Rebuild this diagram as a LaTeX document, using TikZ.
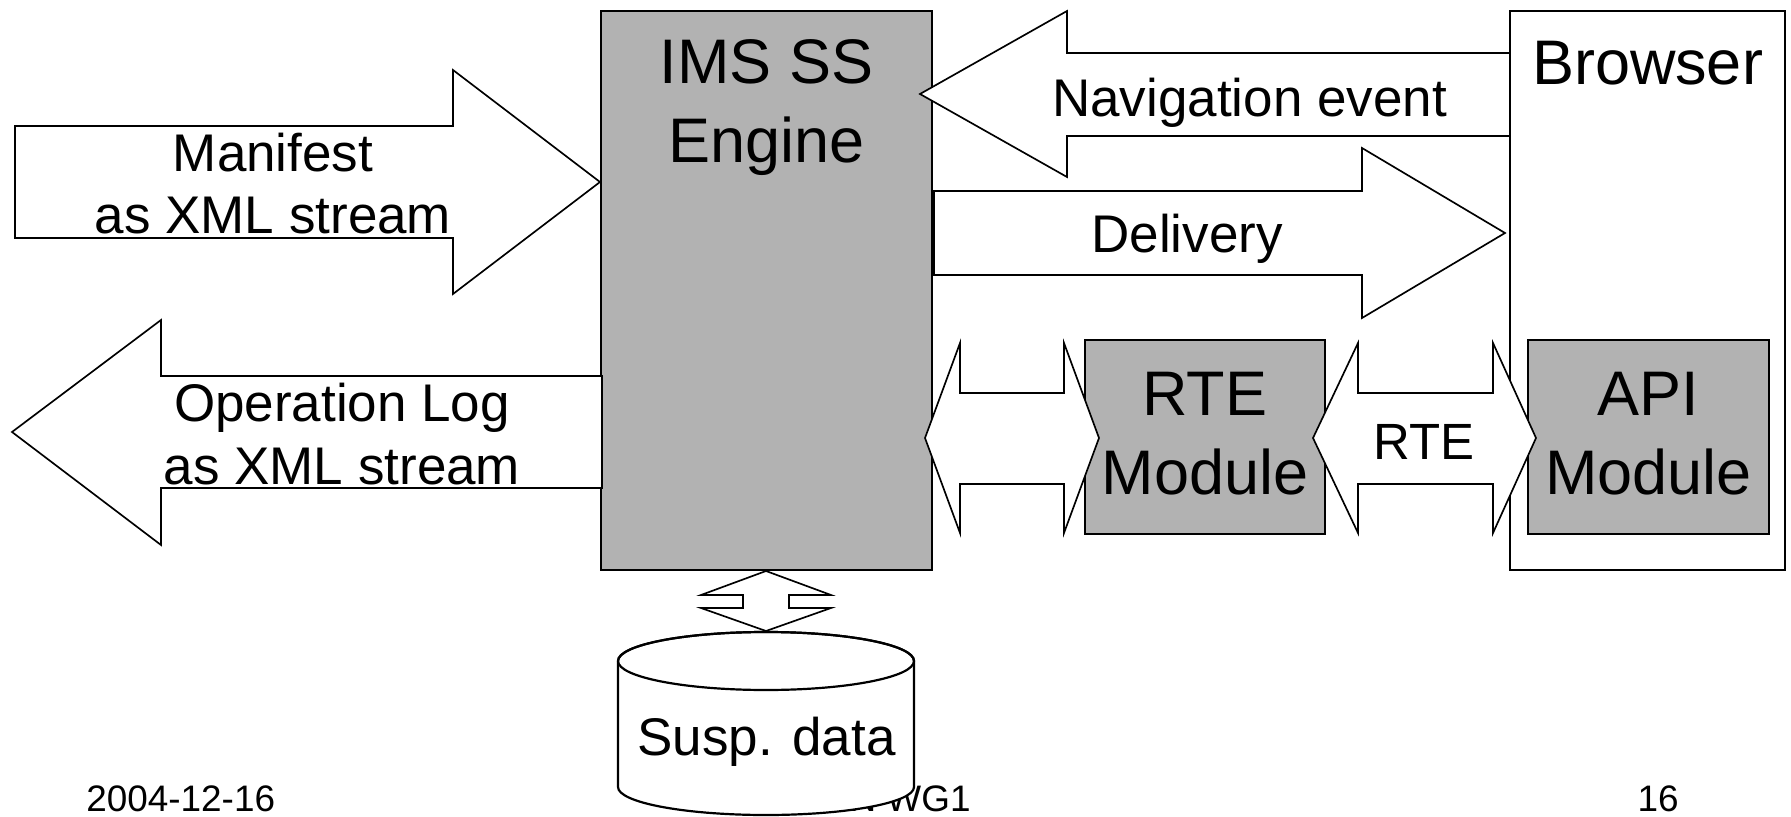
\documentclass[tikz,border=0pt]{standalone}
\usepackage{fontspec}
\setmainfont{Liberation Sans}
\usepackage{tikz}
\definecolor{modulegray}{HTML}{B2B2B2}
\tikzset{
  boxframe/.style={draw=black, line width=1.25pt},
  blockarrow/.style={draw=black, fill=white, line width=0.95pt, line join=miter},
  bigtext/.style={font=\fontsize{35.85}{44.7}\selectfont, align=center, anchor=base, inner sep=0pt},
  midtext/.style={font=\fontsize{30.16}{35.85}\selectfont, align=center, anchor=base, inner sep=0pt},
  foottext/.style={font=\fontsize{21}{25}\selectfont, anchor=base, inner sep=0pt}
}

\begin{document}
\begin{tikzpicture}[x=0.02cm, y=-0.02cm]
  \useasboundingbox (0,0) rectangle (1791,817);

  % Footer
  \node[foottext, anchor=base west] (date) at (86, 811) {2004-12-16};
  \node[foottext, anchor=base west] (group) at (798, 811) {CEN WG1};
  \node[foottext] (page) at (1658, 811) {16};

  % Boxes
  \filldraw[boxframe, fill=modulegray] (601, 11) rectangle (932, 570);
  \filldraw[boxframe, fill=white] (1510, 11) rectangle (1785, 570);
  \filldraw[boxframe, fill=modulegray] (1085, 340) rectangle (1325, 534);
  \filldraw[boxframe, fill=modulegray] (1528, 340) rectangle (1769, 534);

  % Manifest and operation log
  \filldraw[blockarrow] (15, 126) -- (453, 126) -- (453, 70) -- (600, 182)
    -- (453, 294) -- (453, 238) -- (15, 238) -- cycle;
  \filldraw[blockarrow] (602, 376) -- (161, 376) -- (161, 320) -- (12, 432)
    -- (161, 545) -- (161, 488) -- (602, 488) -- cycle;

  % Navigation event and delivery
  \filldraw[blockarrow] (1510, 53) -- (1067, 53) -- (1067, 11) -- (920, 94)
    -- (1067, 177) -- (1067, 136) -- (1510, 136) -- cycle;
  \filldraw[blockarrow] (934, 191) -- (1362, 191) -- (1362, 148) -- (1505, 233)
    -- (1362, 318) -- (1362, 275) -- (934, 275) -- cycle;

  % Double arrows to the modules
  \filldraw[blockarrow] (925, 438) -- (960, 343) -- (960, 393) -- (1064, 393)
    -- (1064, 343) -- (1099, 438) -- (1064, 533) -- (1064, 484)
    -- (960, 484) -- (960, 533) -- cycle;
  \filldraw[blockarrow] (1313, 438) -- (1358, 343) -- (1358, 393) -- (1493, 393)
    -- (1493, 343) -- (1536, 438) -- (1493, 533) -- (1493, 484)
    -- (1358, 484) -- (1358, 533) -- cycle;

  % Engine to storage
  \filldraw[blockarrow] (766, 571) -- (831, 595) -- (789, 595) -- (789, 608)
    -- (831, 608) -- (766, 631) -- (701, 608) -- (743, 608) -- (743, 595)
    -- (701, 595) -- cycle;

  % Storage cylinder
  \filldraw[blockarrow, line width=1.25pt] (914, 661) -- (914, 787)
    arc[start angle=0, end angle=180, x radius=148, y radius=28]
    -- (618, 661) arc[start angle=180, end angle=360, x radius=148, y radius=29] -- cycle;
  \draw[line width=1.25pt] (766, 661) ellipse[x radius=148, y radius=29];

  % Labels (base = last line)
  \node[bigtext] (engine) at (766.5, 162.5) {IMS SS\\Engine};
  \node[bigtext] (browser) at (1647.5, 85) {Browser};
  \node[bigtext] (rtemodule) at (1205, 494) {RTE\\Module};
  \node[bigtext] (apimodule) at (1648.5, 494) {API\\Module};
  \node[midtext] (manifest) at (273, 234) {Manifest\\as XML stream};
  \node[midtext] (oplog) at (342, 484) {Operation Log\\as XML stream};
  \node[midtext] (navigation) at (1249.5, 117) {Navigation event};
  \node[midtext] (delivery) at (1187, 253) {Delivery};
  \node[midtext, font=\fontsize{29}{34}\selectfont] (rtelink) at (1424, 459) {RTE};
  \node[midtext] (susp) at (766.5, 755) {Susp. data};
\end{tikzpicture}
\end{document}
